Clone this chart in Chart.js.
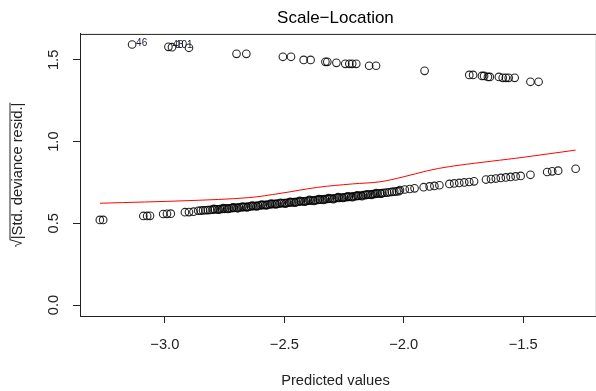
<!DOCTYPE html>
<html>
<head>
<meta charset="utf-8">
<script src="https://cdn.jsdelivr.net/npm/chart.js@4.4.1/dist/chart.umd.min.js"></script>
<style>
  html, body { margin: 0; padding: 0; background: #fff; }
  #wrap { width: 596px; height: 391px; }
</style>
</head>
<body>
<div id="wrap"><canvas id="chartScaleLocation"></canvas></div>
<script>
// Points du bas (bande dense)
const lowerX = [-3.272, -3.258, -3.090, -3.074, -3.062, -3.007, -2.991, -2.975, -2.916, -2.899, -2.880, -2.860,
  -2.85, -2.84, -2.83, -2.82, -2.81, -2.80, -2.79, -2.78, -2.77, -2.76, -2.75, -2.74, -2.73, -2.72, -2.71,
  -2.70, -2.69, -2.68, -2.67, -2.66, -2.65, -2.64, -2.63, -2.62, -2.61, -2.60, -2.59, -2.58, -2.57, -2.56,
  -2.55, -2.54, -2.53, -2.52, -2.51, -2.50, -2.49, -2.48, -2.47, -2.46, -2.45, -2.44, -2.43, -2.42, -2.41,
  -2.40, -2.39, -2.38, -2.37, -2.36, -2.35, -2.34, -2.33, -2.32, -2.31, -2.30, -2.29, -2.28, -2.27, -2.26,
  -2.25, -2.24, -2.23, -2.22, -2.21, -2.20, -2.19, -2.18, -2.17, -2.16, -2.15, -2.14, -2.13, -2.12, -2.11,
  -2.10, -2.09, -2.08, -2.07, -2.06, -2.05, -2.04, -2.03, -2.02,
  -2.795, -2.775, -2.755, -2.735, -2.715, -2.695, -2.675, -2.655, -2.635, -2.615, -2.595, -2.575,
  -2.555, -2.535, -2.515, -2.495, -2.475, -2.455, -2.435, -2.415, -2.395, -2.375, -2.355, -2.335,
  -2.315, -2.295, -2.275, -2.255, -2.235, -2.215, -2.195, -2.175, -2.155, -2.135, -2.115, -2.095,
  -2.016, -1.996, -1.975, -1.955, -1.917, -1.892, -1.872, -1.851, -1.809, -1.789, -1.768, -1.747, -1.726,
  -1.706, -1.656, -1.635, -1.615, -1.594, -1.573, -1.553, -1.532, -1.511, -1.470, -1.400, -1.379, -1.354, -1.281];
const lowerY = [0.521, 0.521, 0.545, 0.545, 0.546, 0.557, 0.558, 0.559, 0.568, 0.569, 0.571, 0.577,
  0.578, 0.579, 0.580, 0.581, 0.582, 0.583, 0.585, 0.586, 0.587, 0.588, 0.589, 0.591, 0.592, 0.593, 0.594,
  0.596, 0.597, 0.598, 0.599, 0.601, 0.602, 0.604, 0.605, 0.607, 0.608, 0.610, 0.611, 0.613, 0.614, 0.616,
  0.617, 0.619, 0.620, 0.621, 0.623, 0.624, 0.626, 0.627, 0.628, 0.630, 0.631, 0.632, 0.634, 0.635, 0.636,
  0.638, 0.639, 0.640, 0.642, 0.643, 0.645, 0.646, 0.648, 0.649, 0.651, 0.652, 0.653, 0.655, 0.656, 0.658,
  0.659, 0.660, 0.662, 0.663, 0.665, 0.666, 0.668, 0.670, 0.672, 0.673, 0.675, 0.677, 0.679, 0.680, 0.682,
  0.684, 0.685, 0.687, 0.688, 0.690, 0.692, 0.694, 0.695, 0.697,
  0.588, 0.583, 0.593, 0.588, 0.597, 0.592, 0.603, 0.597, 0.609, 0.603, 0.615, 0.610,
  0.621, 0.616, 0.626, 0.621, 0.631, 0.626, 0.637, 0.632, 0.643, 0.637, 0.648, 0.643,
  0.654, 0.648, 0.660, 0.655, 0.665, 0.660, 0.671, 0.666, 0.678, 0.674, 0.685, 0.681,
  0.704, 0.707, 0.710, 0.714, 0.721, 0.726, 0.729, 0.733, 0.741, 0.744, 0.747, 0.750, 0.753,
  0.757, 0.768, 0.771, 0.774, 0.778, 0.781, 0.784, 0.787, 0.790, 0.797, 0.814, 0.818, 0.822, 0.834];

// Points du haut
const upperX = [-3.137, -2.985, -2.970, -2.899, -2.700, -2.659, -2.506, -2.472, -2.419, -2.390, -2.328, -2.320,
  -2.282, -2.245, -2.228, -2.216, -2.199, -2.145, -2.116, -1.913, -1.726, -1.710, -1.673, -1.664, -1.648,
  -1.640, -1.602, -1.586, -1.573, -1.561, -1.536, -1.470, -1.436];
const upperY = [1.594, 1.580, 1.578, 1.574, 1.537, 1.537, 1.519, 1.519, 1.500, 1.500, 1.488, 1.488,
  1.482, 1.476, 1.476, 1.476, 1.476, 1.464, 1.464, 1.433, 1.408, 1.408, 1.402, 1.402, 1.396,
  1.396, 1.396, 1.390, 1.390, 1.390, 1.390, 1.366, 1.366];
const pointLabels = ['46', '48', '101'];   // les 3 premiers points du haut

// Courbe lissée (rouge)
const smoothX = [-3.272, -2.899, -2.651, -2.514, -2.361, -2.216, -2.100, -2.000, -1.900, -1.809, -1.668, -1.532, -1.395, -1.281];
const smoothY = [0.623, 0.639, 0.657, 0.684, 0.720, 0.741, 0.754, 0.785, 0.822, 0.847, 0.874, 0.898, 0.925, 0.948];

const xTicks = [-3.0, -2.5, -2.0, -1.5];
const yTicks = [0.0, 0.5, 1.0, 1.5];

const FONT = "'Liberation Sans', Arial, sans-serif";

function toPoints(xs, ys) {
    return xs.map((x, i) => ({ x: x, y: ys[i] }));
}

function fmt(v) {
    return (v < 0 ? '\u2212' : '') + Math.abs(v).toFixed(1);
}

// Cadre + étiquettes des points + barre de la racine
const extras = {
    id: 'extras',
    afterDraw(chart) {
        const ctx = chart.ctx;
        const a = chart.chartArea;
        ctx.save();
        ctx.strokeStyle = '#222';
        ctx.lineWidth = 1;
        ctx.strokeRect(a.left + 0.5, a.top + 0.5, a.right - a.left + 5, a.bottom - a.top);

        // étiquettes 46, 48, 101
        const meta = chart.getDatasetMeta(2);
        ctx.fillStyle = '#1a1a33';
        ctx.font = '10px ' + FONT;
        ctx.textBaseline = 'middle';
        ctx.textAlign = 'left';
        pointLabels.forEach((lab, i) => {
            const el = meta.data[i];
            ctx.fillText(lab, el.x + 4, el.y - 1.5);
        });

        // barre au-dessus de |Std. deviance resid.|
        const ys = chart.scales.y;
        ctx.font = '14.7px ' + FONT;
        const full = ctx.measureText('\u221A|Std. deviance resid.|').width;
        const root = ctx.measureText('\u221A').width;
        const cy = (a.top + a.bottom) / 2;
        const tx = ys.left + 9.5;
        ctx.beginPath();
        ctx.moveTo(tx + 0.5, cy + full / 2 - root + 1);
        ctx.lineTo(tx + 0.5, cy - full / 2);
        ctx.stroke();
        ctx.restore();
    }
};

const canvas = document.getElementById('chartScaleLocation');

new Chart(canvas, {
    type: 'scatter',
    data: {
        datasets: [{
            label: 'lissage',
            data: toPoints(smoothX, smoothY),
            showLine: true,
            borderColor: '#ff0000',
            borderWidth: 1,
            pointRadius: 0,
            tension: 0.35,
            fill: false
        }, {
            label: 'bas',
            data: toPoints(lowerX, lowerY),
            pointRadius: 3.8,
            borderWidth: 1.1,
            borderColor: 'rgba(0,0,0,0.85)',
            backgroundColor: 'rgba(0,0,0,0)'
        }, {
            label: 'haut',
            data: toPoints(upperX, upperY),
            pointRadius: 3.8,
            borderWidth: 1.1,
            borderColor: 'rgba(0,0,0,0.85)',
            backgroundColor: 'rgba(0,0,0,0)'
        }]
    },
    options: {
        responsive: true,
        maintainAspectRatio: false,
        animation: false,
        layout: { padding: { left: 0, right: 0, top: 0, bottom: 0 } },
        plugins: {
            legend: { display: false },
            tooltip: { enabled: false },
            title: {
                display: true,
                fullSize: false,
                text: 'Scale\u2212Location',
                color: '#000',
                font: { family: FONT, size: 17, weight: 'normal' },
                padding: { top: 8.5, bottom: 5 }
            }
        },
        scales: {
            x: {
                type: 'linear',
                min: -3.355,
                max: -1.217,
                afterBuildTicks: function(scale) {
                    scale.ticks = xTicks.map(v => ({ value: v }));
                },
                afterFit: function(scale) { scale.height = 75; },
                grid: { display: true, drawOnChartArea: false, drawTicks: true, tickLength: 7, color: '#222' },
                border: { display: true, color: '#222' },
                ticks: {
                    color: '#222',
                    padding: 13,
                    maxRotation: 0,
                    font: { family: FONT, size: 14.7 },
                    callback: function(value) { return fmt(value); }
                },
                title: {
                    display: true,
                    text: 'Predicted values',
                    color: '#222',
                    font: { family: FONT, size: 14.7 },
                    padding: { top: 0, bottom: 1 }
                }
            },
            y: {
                type: 'linear',
                min: -0.067,
                max: 1.659,
                afterBuildTicks: function(scale) {
                    scale.ticks = yTicks.map(v => ({ value: v }));
                },
                afterFit: function(scale) { scale.width = 80; },
                grid: { display: true, drawOnChartArea: false, drawTicks: true, tickLength: 7, color: '#222' },
                border: { display: true, color: '#222' },
                ticks: {
                    color: '#222',
                    padding: 9,
                    minRotation: 90,
                    maxRotation: 90,
                    crossAlign: 'center',
                    font: { family: FONT, size: 14.7 },
                    callback: function(value) { return fmt(value); }
                },
                title: {
                    display: true,
                    text: '\u221A|Std. deviance resid.|',
                    color: '#222',
                    font: { family: FONT, size: 14.7 },
                    padding: { top: 9.5, bottom: 0 }
                }
            }
        }
    },
    plugins: [extras]
});
</script>
</body>
</html>
